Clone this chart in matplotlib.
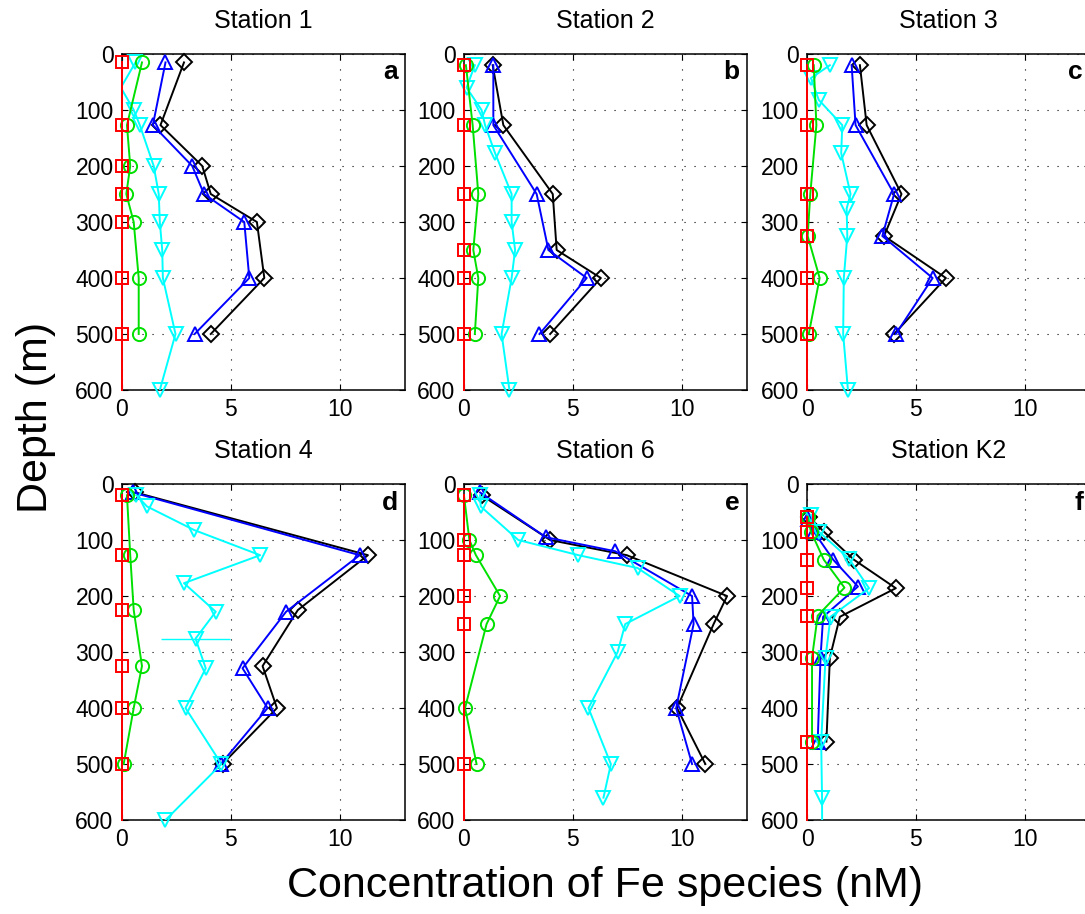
import numpy as np
from matplotlib import pyplot as plt

plt.rcParams['font.family'] = ['Liberation Sans', 'DejaVu Sans']

###################################################### DATA (depth m, conc nM)
# Station 1
s1_red_z = [15, 127, 200, 250, 300, 400, 500, 600]
s1_red = [0, 0, 0, 0, 0, 0, 0, 0]
s1_grn_z = [15, 127, 200, 250, 300, 400, 500]
s1_grn = [0.92, 0.23, 0.38, 0.2, 0.54, 0.77, 0.77]
s1_cyn_z = [15, 60, 100, 127, 200, 250, 300, 350, 400, 500, 600]
s1_cyn = [0.62, -0.05, 0.54, 0.82, 1.46, 1.69, 1.74, 1.85, 1.88, 2.46, 1.74]
s1_blu_z = [15, 127, 200, 250, 300, 400, 500]
s1_blu = [2.0, 1.42, 3.23, 3.77, 5.62, 5.85, 3.34]
s1_blk_z = [15, 127, 200, 250, 300, 400, 500]
s1_blk = [2.85, 1.77, 3.69, 4.08, 6.2, 6.54, 4.08]

# Station 2
s2_red_z = [20, 127, 250, 350, 400, 500, 600]
s2_red = [0, 0, 0, 0, 0, 0, 0]
s2_grn_z = [20, 127, 250, 350, 400, 500]
s2_grn = [0.09, 0.4, 0.66, 0.43, 0.66, 0.5]
s2_cyn_z = [20, 60, 100, 127, 177, 250, 300, 350, 400, 500, 600]
s2_cyn = [0.5, 0.12, 0.81, 0.97, 1.43, 2.19, 2.19, 2.35, 2.19, 1.73, 2.09]
s2_blu_z = [20, 127, 250, 350, 400, 500]
s2_blu = [1.35, 1.35, 3.34, 3.88, 5.64, 3.47]
s2_blk_z = [20, 127, 250, 350, 400, 500]
s2_blk = [1.32, 1.81, 4.08, 4.26, 6.29, 3.96]

# Station 3
s3_red_z = [20, 127, 250, 325, 400, 500, 600]
s3_red = [0, 0, 0, 0, 0, 0, 0]
s3_grn_z = [20, 127, 250, 325, 400, 500]
s3_grn = [0.31, 0.43, 0.15, 0.03, 0.58, 0.08]
s3_cyn_z = [20, 43, 82, 127, 177, 250, 276, 325, 400, 500, 600]
s3_cyn = [1.05, 0.18, 0.54, 1.62, 1.57, 2.0, 1.82, 1.85, 1.69, 1.66, 1.88]
s3_blu_z = [20, 127, 250, 325, 400, 500]
s3_blu = [2.05, 2.23, 4.0, 3.46, 5.77, 4.08]
s3_blk_z = [20, 127, 250, 325, 400, 500]
s3_blk = [2.43, 2.74, 4.34, 3.54, 6.38, 4.0]

# Station 4
s4_red_z = [20, 127, 225, 325, 400, 500, 600]
s4_red = [0, 0, 0, 0, 0, 0, 0]
s4_grn_z = [20, 127, 225, 325, 400, 500]
s4_grn = [0.23, 0.38, 0.54, 0.92, 0.54, 0.08]
s4_cyn_z = [20, 40, 82, 127, 177, 228, 276, 329, 400, 500, 600]
s4_cyn = [0.66, 1.15, 3.31, 6.35, 2.85, 4.31, 3.38, 3.85, 2.92, 4.57, 2.0]
s4_cyn_err = [0, 0, 0, 0, 0, 0, 1.6, 0, 0, 0, 0]
s4_blu_z = [15, 127, 228, 329, 400, 500]
s4_blu = [0.5, 10.92, 7.54, 5.54, 6.69, 4.54]
s4_blk_z = [15, 127, 225, 325, 400, 500]
s4_blk = [0.62, 11.3, 8.08, 6.46, 7.12, 4.62]

# Station 6
s6_red_z = [20, 100, 127, 200, 250, 500, 600]
s6_red = [0, 0, 0, 0, 0, 0, 0]
s6_grn_z = [20, 100, 127, 200, 250, 400, 500]
s6_grn = [0.0, 0.25, 0.55, 1.66, 1.04, 0.05, 0.58]
s6_cyn_z = [20, 40, 100, 127, 150, 200, 250, 300, 400, 500, 560]
s6_cyn = [0.74, 0.77, 2.5, 5.26, 7.98, 9.91, 7.41, 7.06, 5.72, 6.75, 6.41]
s6_blu_z = [15, 95, 120, 200, 250, 400, 500]
s6_blu = [0.74, 3.77, 6.95, 10.48, 10.55, 9.75, 10.48]
s6_blk_z = [20, 100, 127, 200, 250, 400, 500]
s6_blk = [0.81, 3.96, 7.48, 12.09, 11.47, 9.79, 11.09]

# Station K2
k2_red_z = [58, 85, 135, 185, 235, 310, 460, 600]
k2_red = [0, 0, 0, 0, 0, 0, 0, 0]
k2_grn_z = [58, 85, 135, 185, 235, 310, 460]
k2_grn = [0.03, 0.18, 0.77, 1.72, 0.49, 0.23, 0.23]
k2_cyn_z = [55, 85, 133, 186, 237, 310, 460, 560, 680]
k2_cyn = [0.18, 0.54, 1.92, 2.85, 1.08, 0.85, 0.65, 0.69, 0.7]
k2_blu_z = [62, 85, 135, 183, 237, 310, 460]
k2_blu = [0.03, 0.31, 1.2, 2.34, 0.74, 0.62, 0.49]
k2_blk_z = [58, 85, 135, 186, 237, 310, 460]
k2_blk = [0.08, 0.77, 2.15, 4.08, 1.51, 1.05, 0.89]

titles = ['Station 1', 'Station 2', 'Station 3', 'Station 4', 'Station 6', 'Station K2']
letters = ['a', 'b', 'c', 'd', 'e', 'f']

stations = [
    (s1_blk_z, s1_blk, s1_blu_z, s1_blu, s1_cyn_z, s1_cyn, s1_grn_z, s1_grn, s1_red_z, s1_red, None),
    (s2_blk_z, s2_blk, s2_blu_z, s2_blu, s2_cyn_z, s2_cyn, s2_grn_z, s2_grn, s2_red_z, s2_red, None),
    (s3_blk_z, s3_blk, s3_blu_z, s3_blu, s3_cyn_z, s3_cyn, s3_grn_z, s3_grn, s3_red_z, s3_red, None),
    (s4_blk_z, s4_blk, s4_blu_z, s4_blu, s4_cyn_z, s4_cyn, s4_grn_z, s4_grn, s4_red_z, s4_red, s4_cyn_err),
    (s6_blk_z, s6_blk, s6_blu_z, s6_blu, s6_cyn_z, s6_cyn, s6_grn_z, s6_grn, s6_red_z, s6_red, None),
    (k2_blk_z, k2_blk, k2_blu_z, k2_blu, k2_cyn_z, k2_cyn, k2_grn_z, k2_grn, k2_red_z, k2_red, None),
]

XMAX, ZMAX = 13, 600


def profile(ax, z, c, color, marker, ms, xerr=None, baseline=False):
    z = np.array(z, float)
    c = np.array(c, float)
    # baseline series sits on the y axis: don't clip it, last point has no marker
    ax.plot(c, z, '-', color=color, lw=1.4, clip_on=not baseline, zorder=3)
    inside = (c >= 0) & (c <= XMAX) & (z <= ZMAX)
    if baseline:
        inside[-1] = False
    ax.plot(c[inside], z[inside], ls='none', marker=marker, ms=ms,
            mfc='none', mec=color, mew=1.4, clip_on=False, zorder=3)
    if xerr is not None:
        ax.errorbar(c, z, xerr=xerr, fmt='none', ecolor=color, elinewidth=1.0)


###################################################### FIGURE
fig = plt.figure(figsize=(10.85, 9.14), dpi=100)

lefts = [0.1124, 0.4276, 0.7438]
bottoms = [0.5733, 0.1028]
w, h = 0.2608, 0.3676

for i, st in enumerate(stations):
    ax = fig.add_axes([lefts[i % 3], bottoms[i // 3], w, h])
    bz, b, uz, u, cz, c, gz, g, rz, r, err = st
    profile(ax, bz, b, 'black', 'D', 8.5)
    profile(ax, uz, u, '#0000ff', '^', 10.5)
    profile(ax, cz, c, '#00ffff', 'v', 10.5, err)
    profile(ax, gz, g, '#00e000', 'o', 9.5)
    profile(ax, rz, r, '#ff0000', 's', 8.5, baseline=True)

    ax.set_xlim(0, XMAX)
    ax.set_ylim(ZMAX, 0)
    ax.set_xticks([0, 5, 10])
    ax.set_yticks(range(0, 601, 100))
    ax.grid(True, color='black', lw=0.8, ls=(0, (1, 8)))
    ax.tick_params(direction='in', top=True, right=True, length=4,
                   labelsize=16.5, pad=6)
    for s in ax.spines.values():
        s.set_linewidth(1.1)
    ax.set_title(titles[i], fontsize=18, pad=18.5)
    ax.text(0.975, 0.945, letters[i], transform=ax.transAxes, ha='right',
            va='center', fontsize=19, fontweight='bold')

fig.text(0.033, 0.543, 'Depth (m)', rotation=90, ha='center', va='center', fontsize=31)
fig.text(0.558, 0.031, 'Concentration of Fe species (nM)', ha='center', va='center', fontsize=31)

plt.savefig('out.png', dpi=100)
